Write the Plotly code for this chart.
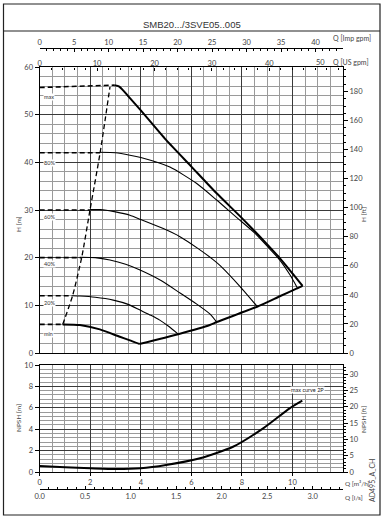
import plotly.graph_objects as go

# ---------------- data (Q in m3/h, H in m) ----------------
max_dash_q = [0.0, 1.0, 2.0, 2.95]
max_dash_h = [55.7, 55.9, 56.1, 56.2]
max_q = [2.95, 3.15, 3.3, 3.5, 4.0, 5.0, 6.0, 7.0, 8.0, 9.0, 9.5, 10.0, 10.4]
max_h = [56.2, 55.9, 55.1, 53.9, 50.9, 44.7, 39.1, 33.5, 28.3, 22.8, 19.9, 16.7, 14.1]

p80_dash_q = [0.0, 2.39]
p80_dash_h = [42.0, 42.0]
p80_q = [2.39, 3.0, 3.57, 4.0, 5.15, 6.2, 7.0, 7.52, 7.8, 8.5, 9.0, 9.5, 9.9, 10.2]
p80_h = [42.1, 42.0, 41.5, 41.0, 39.0, 35.6, 32.1, 29.7, 28.4, 25.2, 22.4, 19.5, 16.4, 13.6]

p60_dash_q = [0.0, 1.99]
p60_dash_h = [30.0, 30.0]
p60_q = [1.99, 2.39, 3.0, 3.57, 4.0, 4.89, 5.55, 6.27, 6.86, 7.13, 7.92, 8.6]
p60_h = [30.1, 30.1, 29.6, 28.9, 28.0, 26.1, 24.4, 21.9, 19.6, 18.4, 14.0, 9.8]

p40_dash_q = [0.0, 1.66]
p40_dash_h = [20.0, 20.0]
p40_q = [1.66, 2.2, 2.78, 3.4, 3.97, 4.8, 5.55, 6.2, 6.73, 7.0]
p40_h = [20.1, 20.0, 19.5, 18.6, 17.4, 15.2, 12.6, 10.3, 8.2, 6.5]

p20_dash_q = [0.0, 1.30]
p20_dash_h = [12.0, 12.0]
p20_q = [1.30, 1.59, 2.2, 2.91, 3.5, 3.97, 4.4, 4.75, 5.1, 5.48]
p20_h = [12.0, 11.95, 11.7, 11.1, 10.2, 9.0, 7.9, 6.9, 5.6, 3.95]

min_dash_q = [0.0, 0.91]
min_dash_h = [6.0, 6.0]
min_q = [0.91, 1.59, 2.38, 3.17, 3.6, 3.94]
min_h = [6.0, 5.87, 4.96, 3.4, 2.6, 1.9]

sys_q = [3.94, 5.48, 6.73, 7.0, 8.6, 9.5, 10.16, 10.4]
sys_h = [1.9, 3.95, 5.87, 6.5, 9.7, 11.9, 13.5, 14.1]

bound_q = [0.91, 1.30, 1.66, 1.99, 2.39, 2.78]
bound_h = [6.0, 12.0, 20.0, 30.0, 42.0, 55.8]

npsh_q = [0.0, 1.0, 2.0, 3.0, 4.0, 5.0, 6.34, 7.65, 8.84, 9.89, 10.39]
npsh_m = [0.56, 0.45, 0.35, 0.27, 0.34, 0.65, 1.28, 2.36, 4.08, 5.95, 6.66]

curve_labels = ["max", "80%", "60%", "40%", "20%", "min"]
curve_label_h = [53.7, 39.9, 28.6, 18.7, 10.5, 4.0]

q_m3h_ticks = [0, 2, 4, 6, 8, 10]
imp_gpm_ticks = [0, 5, 10, 15, 20, 25, 30, 35, 40]
us_gpm_ticks = [0, 10, 20, 30, 40]
ls_ticks = [0.0, 0.5, 1.0, 1.5, 2.0, 2.5, 3.0]
h_ft_ticks = [0, 20, 40, 60, 80, 100, 120, 140, 160, 180]
npsh_ft_ticks = [0, 5, 10, 15, 20, 25, 30]

title_text = "SMB20.../3SVE05..005"

# ---------------- geometry helpers ----------------
W, H = 392, 523
def px(x):
    return x / W
def py(y):
    return 1 - y / H

X0, X1 = px(39.7), px(343)
MAIN = [py(353), py(67)]
NPSH = [py(472), py(365)]

FONT = "Lato, Open Sans, sans-serif"
TXT = "#444"
tickfont = dict(family=FONT, size=7.5, color=TXT)

fig = go.Figure()

def line(q, h, width, dash="solid", xa="x", ya="y", shape="spline"):
    fig.add_trace(go.Scatter(x=q, y=h, mode="lines", xaxis=xa, yaxis=ya,
                             line=dict(color="black", width=width, dash=dash,
                                       shape=shape, smoothing=0.6),
                             hoverinfo="skip", showlegend=False))

DASH = "5px,3px"
for q, h in [(max_dash_q, max_dash_h), (p80_dash_q, p80_dash_h), (p60_dash_q, p60_dash_h),
             (p40_dash_q, p40_dash_h), (p20_dash_q, p20_dash_h), (min_dash_q, min_dash_h)]:
    line(q, h, 1.6, DASH, shape="linear")
line(bound_q, bound_h, 1.3, DASH)
for q, h in [(p80_q, p80_h), (p60_q, p60_h), (p40_q, p40_h), (p20_q, p20_h)]:
    line(q, h, 1.1)
line(max_q, max_h, 2.0)
line(min_q, min_h, 2.0)
line(sys_q, sys_h, 2.0)
line(npsh_q, npsh_m, 2.0, xa="x4", ya="y3")

# dummy traces so secondary axes are drawn
for xa, ya in [("x2", "y"), ("x3", "y"), ("x", "y2"), ("x5", "y3"), ("x4", "y4")]:
    fig.add_trace(go.Scatter(x=[None], y=[None], xaxis=xa, yaxis=ya, mode="lines",
                             showlegend=False, hoverinfo="skip"))

grid_major = "#3a3a3a"
grid_minor = "#9a9a9a"

def qaxis(anchor, labels):
    return dict(domain=[X0, X1], anchor=anchor, range=[0, 12], dtick=2, tick0=0,
                tickvals=q_m3h_ticks,
                showgrid=True, gridcolor=grid_major, gridwidth=1,
                minor=dict(dtick=0.5, tick0=0, showgrid=True, gridcolor=grid_minor, gridwidth=0.8),
                showticklabels=labels, ticks="outside" if labels else "", ticklen=3,
                tickcolor="black", tickfont=tickfont,
                showline=True, mirror=True, linecolor="black", linewidth=1.3,
                zeroline=False, fixedrange=True, automargin=False)

layout = dict(
    width=W, height=H, margin=dict(l=0, r=0, t=0, b=0, autoexpand=False),
    paper_bgcolor="white", plot_bgcolor="white", showlegend=False,
    xaxis=qaxis("y", False),
    yaxis=dict(domain=MAIN, anchor="x", range=[0, 60], dtick=10, showgrid=True,
               gridcolor=grid_major, gridwidth=1,
               minor=dict(dtick=2, showgrid=True, gridcolor=grid_minor, gridwidth=0.8),
               ticks="outside", ticklen=4, tickcolor="black", tickfont=tickfont,
               showline=True, mirror=True, linecolor="black", linewidth=1.3,
               zeroline=False, fixedrange=True, automargin=False),
    yaxis2=dict(overlaying="y", anchor="x", side="right", range=[0, 60 / 0.3048],
                tickvals=h_ft_ticks, showgrid=False, ticks="outside", ticklen=4,
                tickcolor="black",
                minor=dict(dtick=5, tick0=0, ticks="outside", ticklen=2, tickcolor="black"),
                tickfont=tickfont, zeroline=False, fixedrange=True, automargin=False),
    xaxis2=dict(overlaying="x", anchor="free", position=py(48), side="top",
                range=[0, 12 * 3.66614], tickvals=imp_gpm_ticks, showgrid=False,
                ticks="inside", ticklen=3, tickcolor="black",
                minor=dict(dtick=1, tick0=0, ticks="inside", ticklen=2, tickcolor="black"),
                showline=True, linecolor="black", linewidth=1, tickfont=tickfont,
                zeroline=False, fixedrange=True, automargin=False),
    xaxis3=dict(overlaying="x", anchor="free", position=MAIN[1], side="top",
                range=[0, 12 * 4.40287], tickvals=us_gpm_ticks, showgrid=False,
                ticks="inside", ticklen=3, tickcolor="black",
                minor=dict(dtick=2, tick0=0, ticks="inside", ticklen=2, tickcolor="black"),
                showline=False, tickfont=tickfont, zeroline=False, fixedrange=True,
                automargin=False),
    xaxis4=qaxis("y3", True),
    yaxis3=dict(domain=NPSH, anchor="x4", range=[0, 10], dtick=2, showgrid=True,
                gridcolor=grid_major, gridwidth=1,
                minor=dict(dtick=0.4, tick0=0, showgrid=True, gridcolor=grid_minor, gridwidth=0.8),
                ticks="outside", ticklen=4, tickcolor="black", tickfont=tickfont,
                showline=True, mirror=True, linecolor="black", linewidth=1.3,
                zeroline=False, fixedrange=True, automargin=False),
    yaxis4=dict(overlaying="y3", anchor="x4", side="right", range=[0, 10 / 0.3048],
                tickvals=npsh_ft_ticks, showgrid=False, ticks="outside", ticklen=4,
                tickcolor="black",
                minor=dict(dtick=1, tick0=0, ticks="outside", ticklen=2, tickcolor="black"),
                tickfont=tickfont, zeroline=False, fixedrange=True, automargin=False),
    xaxis5=dict(overlaying="x4", anchor="free", position=py(489), side="bottom",
                range=[0, 12 / 3.6], tickvals=ls_ticks, tickformat=".1f", showgrid=False,
                ticks="inside", ticklen=3, tickcolor="black",
                minor=dict(dtick=0.1, tick0=0, ticks="inside", ticklen=2, tickcolor="black"),
                showline=True, linecolor="black", linewidth=1, tickfont=tickfont,
                zeroline=False, fixedrange=True, automargin=False),
)
fig.update_layout(**layout)

# frame and title box
fig.add_shape(type="rect", xref="paper", yref="paper", x0=px(3.5), x1=px(380), y0=py(515), y1=py(4),
              line=dict(color="#222", width=1.2))
fig.add_shape(type="line", xref="paper", yref="paper", x0=px(3.5), x1=px(380), y0=py(31), y1=py(31),
              line=dict(color="#222", width=1.2))

ann = []
ann.append(dict(text=title_text, x=px(192), y=py(17), xref="paper", yref="paper",
                showarrow=False,
                font=dict(family="Liberation Sans, Arial, sans-serif", size=9.5, color="#333")))

def ptext(t, x, y, size=6.5, angle=0, xanchor="left"):
    ann.append(dict(text=t, x=px(x), y=py(y), xref="paper", yref="paper", showarrow=False,
                    textangle=angle, xanchor=xanchor, yanchor="middle",
                    font=dict(family=FONT, size=size, color=TXT)))

ptext("Q [Imp gpm]", 331, 38, size=7)
ptext("50", 314, 62, size=7.5)
ptext("Q [US gpm]", 331, 62, size=7)
ptext("Q [m³/h]", 343, 483)
ptext("Q [l/s]", 343, 497)
ptext("H [m]", 19, 224, angle=-90, xanchor="center")
ptext("H [ft]", 363, 215, angle=-90, xanchor="center")
ptext("NPSH [m]", 18, 418, angle=-90, xanchor="center")
ptext("NPSH [ft]", 363, 420, angle=-90, xanchor="center")
ptext("AD495_A_CH", 372, 481, size=7, angle=-90, xanchor="center")

for t, h in zip(curve_labels, curve_label_h):
    ann.append(dict(text=t, x=0.15, y=h, xref="x", yref="y", showarrow=False,
                    xanchor="left", bgcolor="white", borderpad=0,
                    font=dict(family=FONT, size=5.5, color="#333")))
ann.append(dict(text="max curve 2P", x=10.6, y=7.7, xref="x4", yref="y3", showarrow=False,
                bgcolor="white", borderpad=0, font=dict(family=FONT, size=5.5, color="#222")))

fig.update_layout(annotations=ann)
fig.write_html("out.html", config={"displayModeBar": False},
               post_script="document.body.style.margin='0';document.body.style.padding='0';")
